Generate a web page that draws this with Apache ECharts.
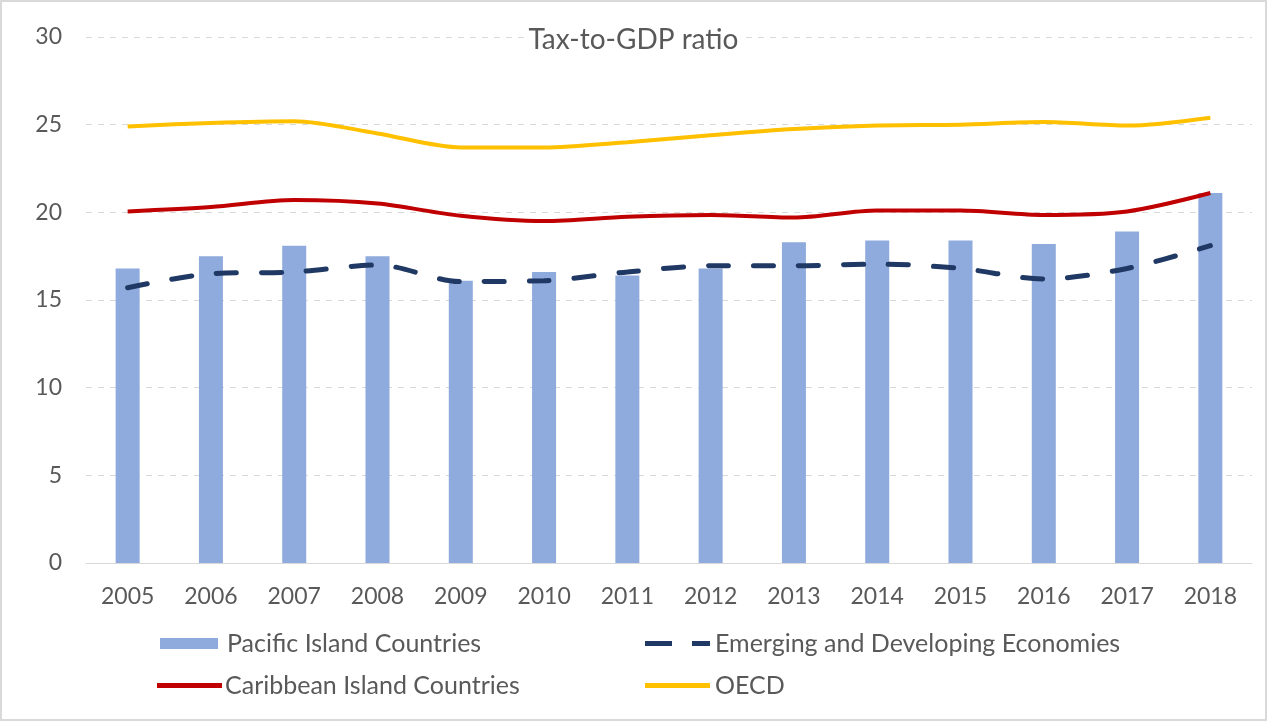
<!DOCTYPE html>
<html>
<head>
<meta charset="utf-8">
<script src="https://cdn.jsdelivr.net/npm/echarts@6/dist/echarts.min.js"></script>
<style>
  html, body { margin: 0; padding: 0; background: #fff; }
  #chart {
    width: 1267px;
    height: 721px;
    box-sizing: border-box;
    border: 2px solid #d9d9d9;
  }
</style>
</head>
<body>
<div id="chart"></div>
<script>
// categories and values
const years = ['2005', '2006', '2007', '2008', '2009', '2010', '2011',
  '2012', '2013', '2014', '2015', '2016', '2017', '2018']
const yTicks = [0, 5, 10, 15, 20, 25, 30]

const pacific = [16.8, 17.5, 18.1, 17.5, 16.1, 16.6, 16.4, 16.8, 18.3, 18.4, 18.4, 18.2, 18.9, 21.1]
const emerging = [15.7, 16.5, 16.6, 17.0, 16.05, 16.1, 16.6, 16.95, 16.95, 17.05, 16.8, 16.2, 16.8, 18.1]
const caribbean = [20.05, 20.3, 20.7, 20.5, 19.8, 19.5, 19.75, 19.85, 19.7, 20.1, 20.1, 19.85, 20.05, 21.1]
const oecd = [24.9, 25.1, 25.2, 24.5, 23.7, 23.7, 24.0, 24.4, 24.75, 24.95, 25.0, 25.15, 24.95, 25.4]

const names = {
  pacific: 'Pacific Island Countries',
  emerging: 'Emerging and Developing Economies',
  caribbean: 'Caribbean Island Countries',
  oecd: 'OECD'
}

const font = 'Lato, "Open Sans", sans-serif'
const textGray = '#595959'

// one legend per entry so each can sit where Excel put it
function legendAt(name, left, top, icon, w, h, gap) {
  return {
    data: [{ name: name, icon: icon }],
    left: left,
    top: top,
    padding: 0,
    itemWidth: w,
    itemHeight: h,
    selectedMode: false,
    textStyle: { fontFamily: font, fontSize: 25, color: textGray, padding: [0, 0, 0, gap] }
  }
}

const chart = echarts.init(document.getElementById('chart'))
chart.setOption({
  animation: false,
  title: {
    text: 'Tax-to-GDP ratio',
    left: 'center',
    top: 22,
    padding: [2, 4],
    backgroundColor: '#fff',
    textStyle: { fontFamily: font, fontSize: 28, fontWeight: 'normal', color: '#595959' }
  },
  grid: { left: 84, right: 13, top: 35, bottom: 156, containLabel: false },
  legend: [
    legendAt(names.pacific, 158, 629, 'rect', 58, 11, 4),
    legendAt(names.emerging, 643, 629, 'path://M0,0h27v5h-27z M47,0h18v5h-18z', 65, 5, 0),
    legendAt(names.caribbean, 155, 671, 'rect', 65, 5, -2),
    legendAt(names.oecd, 643, 671, 'rect', 65, 5, 0)
  ],
  xAxis: {
    type: 'category',
    data: years,
    axisTick: { show: false },
    axisLine: { lineStyle: { color: '#d9d9d9', width: 1 } },
    axisLabel: { fontFamily: font, fontSize: 23, color: textGray, margin: 22 }
  },
  yAxis: {
    type: 'value',
    min: yTicks[0],
    max: yTicks[yTicks.length - 1],
    interval: 5,
    axisLine: { show: false },
    axisTick: { show: false },
    axisLabel: { fontFamily: font, fontSize: 23, color: textGray, margin: 24 },
    splitLine: { lineStyle: { color: '#d9d9d9', type: [6, 6], width: 1 } }
  },
  series: [
    {
      name: names.pacific,
      type: 'bar',
      data: pacific,
      barWidth: 24,
      itemStyle: { color: '#8faadc' }
    },
    {
      name: names.emerging,
      type: 'line',
      data: emerging,
      smooth: 0.3,
      symbol: 'none',
      itemStyle: { color: '#1f3864' },
      lineStyle: { color: '#1f3864', width: 5, type: [20, 25], cap: 'round' },
      z: 3
    },
    {
      name: names.caribbean,
      type: 'line',
      data: caribbean,
      smooth: 0.3,
      symbol: 'none',
      itemStyle: { color: '#c00000' },
      lineStyle: { color: '#c00000', width: 4 }
    },
    {
      name: names.oecd,
      type: 'line',
      data: oecd,
      smooth: 0.3,
      symbol: 'none',
      itemStyle: { color: '#ffc000' },
      lineStyle: { color: '#ffc000', width: 4 }
    }
  ]
})
</script>
</body>
</html>
